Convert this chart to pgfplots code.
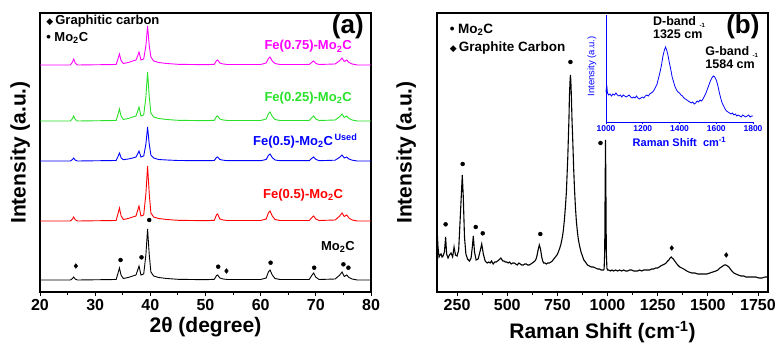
\documentclass[border=0pt]{standalone}
\usepackage{fontspec}
\setmainfont{Liberation Sans}
\newfontfamily\dejavu{DejaVu Sans}
\usepackage{pgfplots}
\pgfplotsset{compat=1.18}
\definecolor{cmag}{RGB}{255,0,255}
\definecolor{cgreen}{RGB}{40,225,40}
\definecolor{cblue}{RGB}{0,0,255}
\definecolor{cred}{RGB}{255,0,0}
\newcommand{\dia}{{\dejavu\fontsize{9}{9}\selectfont ◆}}
\newcommand{\fs}[1]{\fontsize{#1}{#1}\selectfont}
\pgfplotsset{myax/.style={
  scale only axis, width=331pt, height=279pt, ymin=0, ymax=279, ytick=\empty,
  axis line style={line width=1.1pt}, tick style={black, line width=0.9pt},
  tick align=outside, xtick pos=bottom, major tick length=4pt, minor tick length=2.5pt,
  minor x tick num=1,
  ticklabel style={font=\fs{16}\bfseries},
  /pgf/number format/assume math mode=true,
  /pgf/number format/set thousands separator={},
  clip=false,
  label style={font=\fs{21}\bfseries, inner sep=0pt},
}}
\begin{document}
\begin{tikzpicture}
\useasboundingbox (0,0) rectangle (779pt,343pt);
% ---------------- panel (a) ----------------
\begin{axis}[myax, at={(40pt,51pt)}, anchor=south west,
  xmin=20, xmax=80, xtick={20,30,...,80},
  xlabel={2θ (degree)}, ylabel={Intensity (a.u.)},
  x label style={at={(axis description cs:0.5,0)}, anchor=north, yshift=-25pt},
  y label style={at={(axis description cs:-0.03,0.5)}, anchor=south}]
\addplot[black, line width=0.9pt] coordinates {(20,12) (25.5,12) (25.9,13.5) (26.1,15) (26.4,12.9) (26.8,12) (33.8,12.5) (34.1,18) (34.4,24) (34.7,16.8) (35.1,13.5) (36,14.5) (36.8,16) (37.4,17) (37.7,21.8) (37.95,26) (38.3,17) (38.8,18) (39.2,37.5) (39.5,63) (39.8,37.5) (40.1,20) (40.6,16) (41.5,14.5) (43,13.5) (45,12.7) (50,12.3) (51.6,12.7) (52.0,16.5) (52.2,17) (52.6,14) (53.2,13) (54,12.5) (60,12.5) (61.0,14) (61.4,20) (61.7,22) (62.1,17) (62.6,13.5) (63.5,12.5) (68.8,12.5) (69.3,16.9) (69.6,19) (70,14.8) (70.6,12.5) (73.5,13) (74.3,16.8) (74.75,20) (75.15,15.5) (75.6,17) (76,14.5) (76.6,13) (77.5,12) (80,12)};
\addplot[cred, line width=0.9pt] coordinates {(20,71) (25.5,71) (25.9,73) (26.1,75) (26.4,72.2) (26.8,71) (33.8,71.5) (34.1,77.5) (34.4,84) (34.7,76.2) (35.1,72.5) (36,73.5) (36.8,75) (37.4,76) (37.7,81.5) (37.95,86) (38.3,76) (38.8,77) (39.2,98.5) (39.5,126) (39.8,98.5) (40.1,79) (40.6,75) (41.5,73.5) (43,72.5) (45,71.7) (50,71.3) (51.6,71.7) (52.0,77.3) (52.2,78) (52.6,73) (53.2,72) (54,71.5) (60,71.5) (61.0,73) (61.4,79) (61.7,81) (62.1,76) (62.6,72.5) (63.5,71.5) (68.8,71.5) (69.3,74.5) (69.6,76) (70,73) (70.6,71.5) (73.5,72) (74.3,75.8) (74.75,79) (75.15,75.5) (75.6,77) (76,74) (76.6,72) (77.5,71) (80,71)};
\addplot[cblue, line width=0.9pt] coordinates {(20,131) (25.5,131) (25.9,132.5) (26.1,134) (26.4,131.9) (26.8,131) (33.8,131.5) (34.1,135) (34.4,139) (34.7,134.2) (35.1,132.3) (36,133) (36.8,134) (37.4,135) (37.7,138) (37.95,141) (38.3,135) (38.8,136) (39.2,148) (39.5,165) (39.8,148) (40.1,137) (40.6,134) (41.5,132.5) (43,132) (45,131.5) (50,131.3) (51.6,131.5) (52.0,134.6) (52.2,135) (52.6,132.5) (53.2,131.8) (54,131.3) (60,131.3) (61.0,132.5) (61.4,136.6) (61.7,138) (62.1,134.5) (62.6,132) (63.5,131.3) (68.8,131.3) (69.3,133.8) (69.6,135) (70,132.6) (70.6,131.3) (73.5,131.8) (74.3,134.6) (74.75,137) (75.15,134) (75.6,135) (76,133) (76.6,131.8) (77.5,131) (80,131)};
\addplot[cgreen, line width=0.9pt] coordinates {(20,171) (25.5,171) (25.9,173.5) (26.1,176) (26.4,172.5) (26.8,171) (33.8,171.5) (34.1,177) (34.4,183) (34.7,175.8) (35.1,172.5) (36,173.5) (36.8,175) (37.4,176) (37.7,180.8) (37.95,185) (38.3,176) (38.8,177) (39.2,195.5) (39.5,220) (39.8,195.5) (40.1,179) (40.6,175) (41.5,173.5) (43,172.5) (45,171.7) (50,171.3) (51.6,171.7) (52.0,175.5) (52.2,176) (52.6,173) (53.2,172) (54,171.5) (60,171.5) (61.0,173) (61.4,178.2) (61.7,180) (62.1,175.5) (62.6,172.5) (63.5,171.5) (68.8,171.5) (69.3,174.5) (69.6,176) (70,173) (70.6,171.5) (73.5,172) (74.3,175.2) (74.75,178) (75.15,174.5) (75.6,176) (76,173.5) (76.6,172) (77.5,171) (80,171)};
\addplot[cmag, line width=0.9pt] coordinates {(20,227) (25.5,227) (25.9,230) (26.1,233) (26.4,228.8) (26.8,227) (33.8,227.5) (34.1,232.5) (34.4,238) (34.7,231.4) (35.1,228.5) (36,229.5) (36.8,231) (37.4,232) (37.7,236) (37.95,240) (38.3,232) (38.8,233) (39.2,246.5) (39.5,266) (39.8,246.5) (40.1,235) (40.6,231) (41.5,229.5) (43,228.5) (45,227.7) (50,227.3) (51.6,227.7) (52.0,231.5) (52.2,232) (52.6,229) (53.2,228) (54,227.5) (60,227.5) (61.0,229) (61.4,233.4) (61.7,235) (62.1,231) (62.6,228.5) (63.5,227.5) (68.8,227.5) (69.3,229.8) (69.6,231) (70,228.6) (70.6,227.5) (73.5,228) (74.3,231.2) (74.75,234) (75.15,230.5) (75.6,232) (76,229.5) (76.6,228) (77.5,227) (80,227)};
\addplot[only marks, mark=*, mark size=2pt, black] coordinates {(34.6,32) (38.4,34.7) (39.8,72) (52.3,25.3) (61.8,29.3) (69.7,24.3) (75.0,27.7) (75.9,24.3)};
\addplot[only marks, mark=diamond*, mark size=2.4pt, black] coordinates {(26.5,26) (53.8,21)};
\node[anchor=center, font=\fs{26}\bfseries, inner sep=0pt] at (axis cs:75.8,265.5) {(a)};
\node[anchor=west, font=\fs{13}\bfseries] at (axis cs:20.5,271) {\dia\,Graphitic carbon};
\node[anchor=west, font=\fs{13}\bfseries] at (axis cs:20.5,254) {\textbullet\ Mo\textsubscript{2}C};
\node[anchor=center, font=\fs{13}\bfseries, text=cmag, inner sep=0pt] at (axis cs:68.6,245.5) {Fe(0.75)-Mo\textsubscript{2}C};
\node[anchor=center, font=\fs{13}\bfseries, text=cgreen] at (axis cs:68.6,194) {Fe(0.25)-Mo\textsubscript{2}C};
\node[anchor=west, font=\fs{13}\bfseries, text=cblue, inner sep=0pt] at (axis cs:58.6,151) {Fe(0.5)-Mo\textsubscript{2}C\textsuperscript{\,Used}};
\node[anchor=center, font=\fs{13}\bfseries, text=cred] at (axis cs:67.7,97) {Fe(0.5)-Mo\textsubscript{2}C};
\node[anchor=center, font=\fs{13}\bfseries] at (axis cs:74,45) {Mo\textsubscript{2}C};
\end{axis}
% ---------------- panel (b) ----------------
\begin{axis}[myax, at={(437pt,51pt)}, anchor=south west,
  xmin=150, xmax=1800, xtick={250,500,...,1750},
  xlabel={Raman Shift (cm\textsuperscript{-1})}, ylabel={Intensity (a.u.)},
  x label style={at={(axis description cs:0.5,0)}, anchor=north, yshift=-29pt},
  y label style={at={(axis description cs:-0.063,0.5)}, anchor=south}]
\addplot[black, line width=1.1pt] coordinates {(150,64) (155,45) (160,35) (165,37) (170,38) (175,35) (180,36) (187,40) (193,55) (198,38) (205,34) (212,37) (220,39) (228,35) (235,45) (242,37) (250,36) (258,42) (266,75) (272,100) (276,117) (281,95) (287,55) (294,38) (302,33) (312,31) (320,34) (326,45) (331,56) (337,40) (345,32) (355,33) (364,40) (373,48) (381,38) (390,31) (400,29) (408,30) (415,29) (422,31) (430,28) (438,30) (445,30) (452,31) (458,32) (468,34) (478,31) (485,31) (490,30) (498,30) (505,29) (512,30) (520,28) (528,29) (535,29) (542,28) (550,27) (558,29) (565,28) (572,27) (580,27) (588,28) (595,28) (602,27) (610,27) (618,28) (625,29) (632,30) (638,31) (644,33) (648,36) (654,42) (660,47) (666,43) (672,35) (677,31) (682,29) (688,29) (695,28) (702,29) (710,29) (718,30) (725,31) (732,33) (740,35) (748,37) (755,40) (762,44) (768,48) (775,55) (780,62) (785,72) (790,85) (795,100) (798,115) (802,135) (805,155) (808,175) (810,195) (813,210) (815,217) (817,212) (820,195) (823,172) (827,150) (831,125) (835,105) (840,85) (845,70) (850,60) (855,52) (862,45) (868,40) (875,36) (882,32) (890,30) (900,27) (910,26) (920,25) (930,25) (940,24) (950,23) (960,23) (968,22) (975,22) (980,22) (983,23) (986,40) (988,100) (990,152) (992,100) (994,40) (997,24) (1000,22) (1005,22) (1015,21) (1022,22) (1030,21) (1040,22) (1050,21) (1060,22) (1070,21) (1080,22) (1090,21) (1100,21) (1110,22) (1120,22) (1130,21) (1140,21) (1150,21) (1160,22) (1170,21) (1180,22) (1190,22) (1200,22) (1210,22) (1220,23) (1230,23) (1240,24) (1250,24) (1265,26) (1275,27) (1285,28) (1292,29) (1300,31) (1306,32) (1312,34) (1318,35) (1322,34) (1328,33) (1335,31) (1342,29) (1350,27) (1360,25) (1370,24) (1380,23) (1395,21) (1405,20) (1420,19) (1435,19) (1450,18) (1465,18) (1480,18) (1495,18) (1510,19) (1525,20) (1540,21) (1550,22) (1560,24) (1568,25) (1575,26) (1582,27) (1590,27) (1598,26) (1605,25) (1612,23) (1620,21) (1630,19) (1640,18) (1652,17) (1665,16) (1680,16) (1690,15) (1700,15) (1715,15) (1730,15) (1740,15) (1755,14) (1770,14) (1785,15) (1800,15)};
\addplot[only marks, mark=*, mark size=2pt, black] coordinates {(193,67.7) (278,128) (343,65) (378,58.7) (665,58) (815,230) (965,149)};
\addplot[only marks, mark=diamond*, mark size=2.4pt, black] coordinates {(1320,44) (1592,37)};
\node[anchor=center, font=\fs{26}\bfseries, inner sep=0pt] at (axis cs:1675,265.5) {(b)};
\node[anchor=west, font=\fs{13.5}\bfseries] at (axis cs:196,262) {\textbullet\ Mo\textsubscript{2}C};
\node[anchor=west, font=\fs{13.5}\bfseries] at (axis cs:196,244) {\dia\,Graphite Carbon};
\end{axis}
% ---------------- inset ----------------
\begin{axis}[scale only axis, at={(606pt,221pt)}, anchor=south west, width=147pt, height=107pt,
  xmin=1000, xmax=1800, ymin=0, ymax=107, ytick=\empty, xtick={1000,1200,...,1800},
  axis x line*=bottom, axis y line*=left, axis line style={cblue, line width=0.9pt, -},
  tick style={cblue, line width=0.6pt}, major tick length=2pt, tick align=outside,
  ticklabel style={font=\fs{8.5}\bfseries, text=cblue, inner sep=1pt},
  /pgf/number format/assume math mode=true,
  /pgf/number format/set thousands separator={},
  clip=false,
  xlabel={Raman Shift\ \ cm\textsuperscript{-1}},
  x label style={at={(axis description cs:0.5,0)}, anchor=north, yshift=-15pt, font=\fs{11}\bfseries, text=cblue, inner sep=0pt}]
\addplot[cblue, line width=0.8pt] coordinates {(1000,30) (1004,37) (1008,29) (1015,27) (1022,28) (1030,26) (1038,28) (1046,27) (1054,29) (1062,27) (1070,26) (1078,27) (1086,25) (1094,27) (1102,26) (1110,25) (1118,26) (1126,27) (1134,25) (1142,24) (1150,25) (1158,24) (1166,26) (1174,24) (1182,23) (1190,24) (1198,25) (1206,24) (1214,26) (1222,27) (1230,26) (1238,28) (1246,29) (1254,30) (1262,32) (1270,35) (1278,38) (1286,44) (1294,50) (1302,57) (1310,66) (1318,72) (1324,75) (1330,72) (1336,68) (1344,60) (1352,53) (1360,45) (1368,40) (1376,35) (1384,32) (1392,30) (1400,29) (1408,27) (1416,26) (1424,24) (1432,23) (1440,22) (1448,21) (1456,20) (1464,19) (1472,20) (1480,18) (1488,19) (1496,21) (1504,20) (1512,22) (1520,21) (1528,23) (1536,26) (1544,29) (1552,33) (1560,37) (1568,41) (1576,44) (1584,46) (1592,45) (1600,42) (1608,37) (1616,30) (1624,24) (1632,19) (1640,16) (1648,13) (1656,11) (1664,10) (1672,9) (1680,8) (1688,9) (1696,7) (1704,8) (1712,6) (1720,7) (1728,6) (1736,5) (1744,7) (1752,6) (1760,5) (1768,6) (1776,7) (1784,5) (1792,6) (1800,6)};
\node[rotate=90, anchor=center, font=\fs{9.5}, text=cblue, inner sep=0pt] at (rel axis cs:-0.095,0.52) {Intensity (a.u.)};
\node[anchor=north west, font=\fs{12.5}\bfseries, align=left, inner sep=0pt] at (axis cs:1255,106) {D-band {\fs{6}\raisebox{-2pt}{-1}}\\[1pt]1325 cm};
\node[anchor=north west, font=\fs{12.5}\bfseries, align=left, inner sep=0pt] at (axis cs:1540,76) {G-band {\fs{6}\raisebox{-2pt}{-1}}\\[1pt]1584 cm};
\end{axis}
\end{tikzpicture}
\end{document}
